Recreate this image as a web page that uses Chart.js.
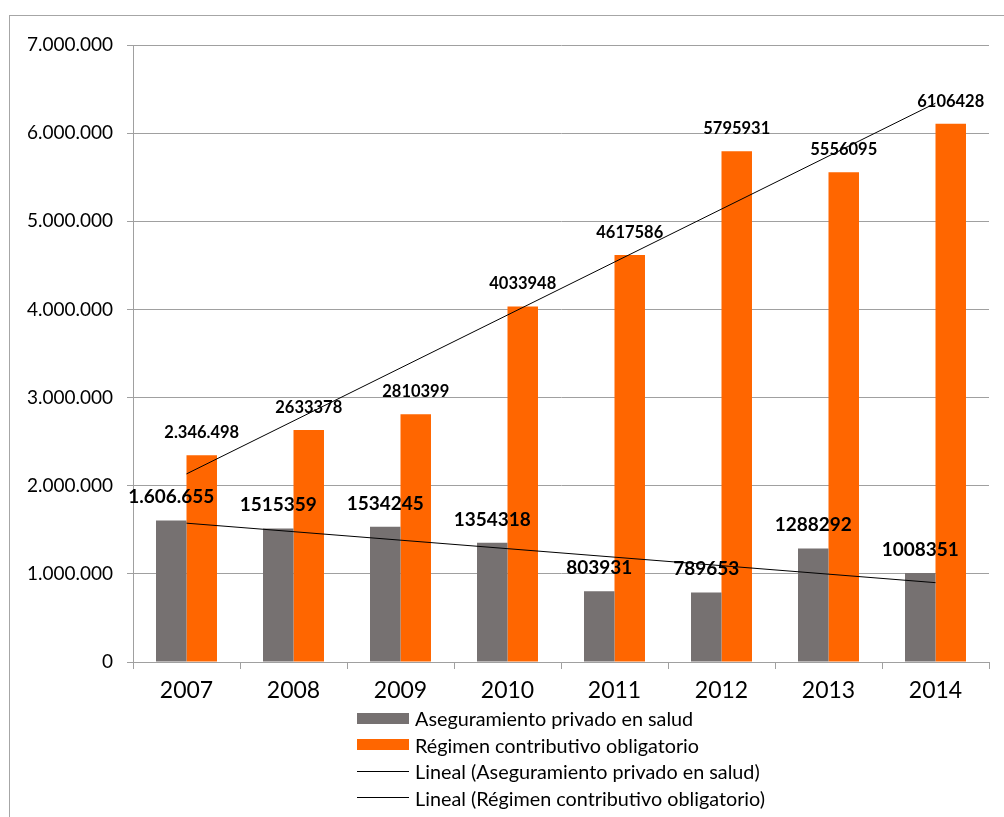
<!DOCTYPE html>
<html lang="es">
<head>
<meta charset="utf-8">
<title>Aseguramiento privado y régimen contributivo</title>
<script src="https://cdn.jsdelivr.net/npm/chart.js@4"></script>
<style>
  html, body { margin: 0; padding: 0; background: #fff; }
  #wrap { position: relative; width: 1004px; height: 817px; overflow: hidden; }
  #marco {
    position: absolute; left: 9px; top: 15px; width: 1100px; height: 900px;
    border-left: 1px solid #a6a6a6; border-top: 1px solid #a6a6a6;
  }
  #grafico { position: absolute; left: 0; top: 0; }
  #leyenda {
    position: absolute; left: 357px; top: 705px;
    font-family: Lato, sans-serif; font-size: 19.8px; color: #000;
  }
  .item { height: 26.5px; display: flex; align-items: center; white-space: nowrap; }
  .muestra { width: 52px; margin-right: 6px; }
</style>
</head>
<body>
<div id="wrap">
  <div id="marco"></div>
  <canvas id="grafico" width="1004" height="817"></canvas>
  <div id="leyenda"></div>
</div>
<script>
const anios = ['2007', '2008', '2009', '2010', '2011', '2012', '2013', '2014'];
const privado = [1606655, 1515359, 1534245, 1354318, 803931, 789653, 1288292, 1008351];
const regimen = [2346498, 2633378, 2810399, 4033948, 4617586, 5795931, 5556095, 6106428];

// extremos de las líneas de tendencia (2007 y 2014)
const tendenciaPrivado = [1575000, 900000];
const tendenciaRegimen = [2134000, 6340000];

const ejeMax = 7000000;
const ejePaso = 1000000;

// rótulos que se escriben con separador de miles
const rotulosConPuntos = [0];

const conPuntos = n => String(n).replace(/\B(?=(\d{3})+(?!\d))/g, '.');

const GRIS = '#767171';
const NARANJA = '#ff6600';
const LINEA_EJE = '#a0a0a0';

const rotulos = {
  id: 'rotulos',
  afterDatasetDraw(chart, args) {
    const ds = chart.data.datasets[args.index];
    if (!ds.tamRotulo) return;
    const ctx = chart.ctx;
    ctx.save();
    ctx.font = `bold ${ds.tamRotulo}px Lato, sans-serif`;
    ctx.fillStyle = '#000';
    ctx.textAlign = 'center';
    ctx.textBaseline = 'alphabetic';
    args.meta.data.forEach((bar, i) => {
      const v = ds.data[i];
      const txt = rotulosConPuntos.includes(i) ? conPuntos(v) : String(v);
      ctx.fillText(txt, bar.x, bar.y - 17);
    });
    ctx.restore();
  }
};

const ultimo = anios.length - 1;

const chart = new Chart(document.getElementById('grafico'), {
  type: 'bar',
  data: {
    labels: anios,
    datasets: [
      {
        label: 'Aseguramiento privado en salud',
        data: privado,
        backgroundColor: GRIS,
        tamRotulo: 19,
        order: 1,
      },
      {
        label: 'Régimen contributivo obligatorio',
        data: regimen,
        backgroundColor: NARANJA,
        tamRotulo: 16.5,
        order: 1,
      },
      {
        type: 'line',
        label: 'Lineal (Aseguramiento privado en salud)',
        data: [
          { x: anios[0], y: tendenciaPrivado[0] },
          { x: anios[ultimo], y: tendenciaPrivado[1] },
        ],
        borderColor: '#000',
        borderWidth: 1,
        pointRadius: 0,
        order: 0,
      },
      {
        type: 'line',
        label: 'Lineal (Régimen contributivo obligatorio)',
        data: [
          { x: anios[0], y: tendenciaRegimen[0] },
          { x: anios[ultimo], y: tendenciaRegimen[1] },
        ],
        borderColor: '#000',
        borderWidth: 1,
        pointRadius: 0,
        order: 0,
      },
    ]
  },
  options: {
    responsive: false,
    animation: false,
    categoryPercentage: 0.57,
    barPercentage: 1,
    layout: { padding: { left: 0, top: 45, right: 15, bottom: 105 } },
    plugins: {
      legend: { display: false },
      tooltip: { enabled: false },
    },
    scales: {
      x: {
        grid: { drawOnChartArea: false, drawTicks: true, tickLength: 7, color: LINEA_EJE },
        border: { color: LINEA_EJE },
        ticks: { color: '#000', font: { family: 'Lato', size: 23 }, padding: 8 },
        afterFit: s => { s.height = 50; },
      },
      y: {
        min: 0,
        max: ejeMax,
        grid: { color: LINEA_EJE, tickLength: 6 },
        border: { color: LINEA_EJE },
        ticks: {
          stepSize: ejePaso,
          padding: 14,
          color: '#000',
          font: { family: 'Lato', size: 19 },
          callback: v => conPuntos(v),
        },
        afterFit: s => { s.width = 133; },
      }
    }
  },
  plugins: [rotulos]
});

// Leyenda en columna debajo del eje
const leyenda = document.getElementById('leyenda');
chart.data.datasets.forEach(ds => {
  const item = document.createElement('div');
  item.className = 'item';
  const muestra = document.createElement('span');
  muestra.className = 'muestra';
  if (ds.type === 'line') {
    muestra.style.height = '0';
    muestra.style.borderTop = '1px solid ' + ds.borderColor;
  } else {
    muestra.style.height = '11px';
    muestra.style.background = ds.backgroundColor;
  }
  const texto = document.createElement('span');
  texto.textContent = ds.label;
  item.appendChild(muestra);
  item.appendChild(texto);
  leyenda.appendChild(item);
});
</script>
</body>
</html>
